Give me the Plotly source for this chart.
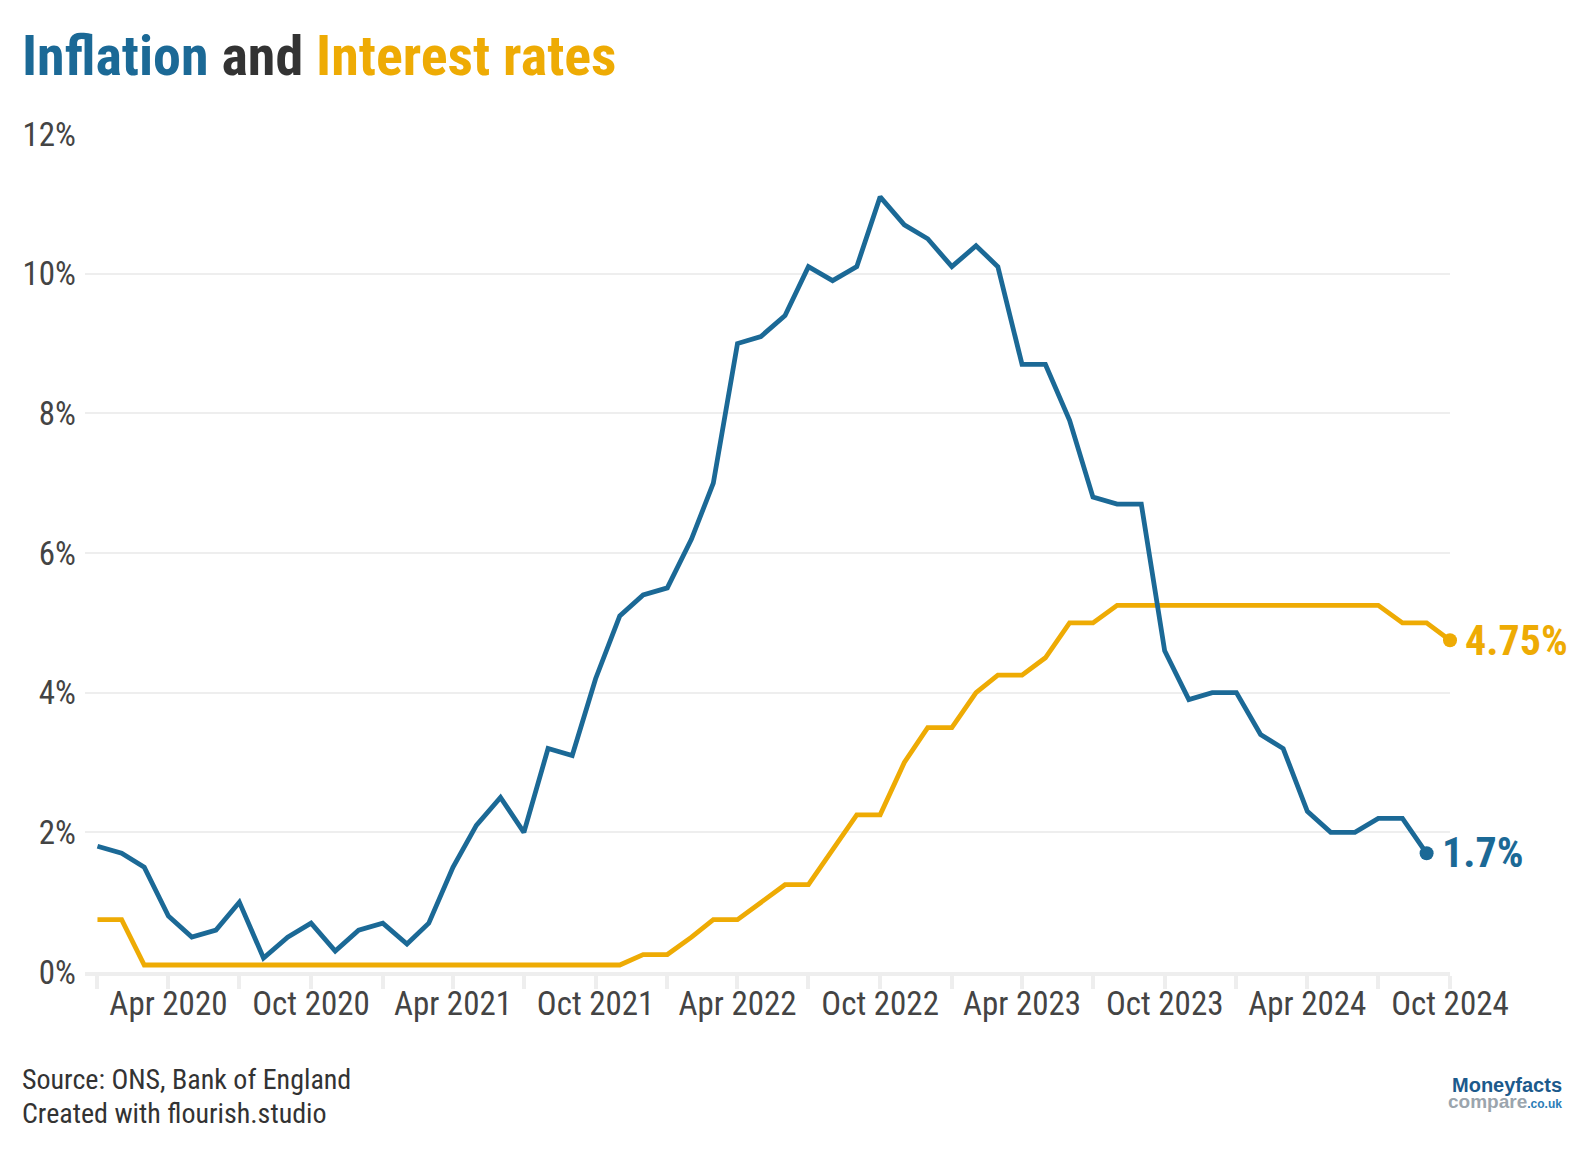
import plotly.graph_objects as go
import pandas as pd

# ---- data ----
inflation_dates = pd.date_range("2020-01-01", "2024-09-01", freq="MS")
inflation = [1.8, 1.7, 1.5, 0.8, 0.5, 0.6, 1.0, 0.2, 0.5, 0.7, 0.3, 0.6,
             0.7, 0.4, 0.7, 1.5, 2.1, 2.5, 2.0, 3.2, 3.1, 4.2, 5.1, 5.4,
             5.5, 6.2, 7.0, 9.0, 9.1, 9.4, 10.1, 9.9, 10.1, 11.1, 10.7, 10.5,
             10.1, 10.4, 10.1, 8.7, 8.7, 7.9, 6.8, 6.7, 6.7, 4.6, 3.9, 4.0,
             4.0, 3.4, 3.2, 2.3, 2.0, 2.0, 2.2, 2.2, 1.7]

rate_dates = pd.date_range("2020-01-01", "2024-10-01", freq="MS")
interest = [0.75, 0.75, 0.1, 0.1, 0.1, 0.1, 0.1, 0.1, 0.1, 0.1, 0.1, 0.1,
            0.1, 0.1, 0.1, 0.1, 0.1, 0.1, 0.1, 0.1, 0.1, 0.1, 0.1, 0.25,
            0.25, 0.5, 0.75, 0.75, 1.0, 1.25, 1.25, 1.75, 2.25, 2.25, 3.0, 3.5,
            3.5, 4.0, 4.25, 4.25, 4.5, 5.0, 5.0, 5.25, 5.25, 5.25, 5.25, 5.25,
            5.25, 5.25, 5.25, 5.25, 5.25, 5.25, 5.25, 5.0, 5.0, 4.75]

tick_dates = pd.date_range("2020-01-01", "2024-10-01", freq="QS")
tick_labels = [d.strftime("%b %Y") if d.month in (4, 10) else "" for d in tick_dates]
y_ticks = [0, 2, 4, 6, 8, 10, 12]
y_labels = [f"{v}%" for v in y_ticks]

BLUE = "#1b6996"
YELLOW = "#eeab04"
FONT = "Liberation Sans Narrow, Roboto Condensed, Arial Narrow, Roboto, sans-serif"

fig = go.Figure()
fig.add_trace(go.Scatter(x=rate_dates, y=interest, mode="lines",
                         line=dict(color=YELLOW, width=4.8), name="Interest rates",
                         hoverinfo="skip"))
fig.add_trace(go.Scatter(x=inflation_dates, y=inflation, mode="lines",
                         line=dict(color=BLUE, width=4.8), name="Inflation",
                         hoverinfo="skip"))
# end markers
fig.add_trace(go.Scatter(x=[rate_dates[-1]], y=[interest[-1]], mode="markers",
                         marker=dict(color=YELLOW, size=14), cliponaxis=False,
                         hoverinfo="skip"))
fig.add_trace(go.Scatter(x=[inflation_dates[-1]], y=[inflation[-1]], mode="markers",
                         marker=dict(color=BLUE, size=14), cliponaxis=False,
                         hoverinfo="skip"))
# end labels
fig.add_annotation(x=rate_dates[-1], y=interest[-1], xref="x", yref="y",
                   text=f"<b>{interest[-1]}%</b>", showarrow=False,
                   xanchor="left", yanchor="middle", xshift=13,
                   font=dict(family=FONT, size=42, color=YELLOW))
fig.add_annotation(x=inflation_dates[-1], y=inflation[-1], xref="x", yref="y",
                   text=f"<b>{inflation[-1]}%</b>", showarrow=False,
                   xanchor="left", yanchor="middle", xshift=13, yshift=1,
                   font=dict(family=FONT, size=42, color=BLUE))

fig.update_layout(
    width=1588, height=1150,
    margin=dict(l=85, r=138, t=134, b=178, autoexpand=False),
    paper_bgcolor="white", plot_bgcolor="white",
    showlegend=False,
    font=dict(family=FONT, color="#444"),
    xaxis=dict(
        range=["2019-12-16", "2024-10-01"],
        tickvals=tick_dates, ticktext=tick_labels,
        ticks="outside", ticklen=13, tickwidth=4, tickcolor="#eeeeee",
        showline=True, linecolor="#eeeeee", linewidth=4,
        showgrid=False, zeroline=False,
        ticklabelstandoff=-14,
        tickfont=dict(family=FONT, size=33, color="#444"),
        fixedrange=True,
    ),
    yaxis=dict(
        range=[0, 12],
        tickvals=y_ticks, ticktext=y_labels,
        showgrid=True, gridcolor="#eeeeee", gridwidth=2,
        zeroline=False, showline=False, ticks="",
        ticklabelstandoff=8,
        tickfont=dict(family=FONT, size=33, color="#444"),
        fixedrange=True,
    ),
)

LX = (20 - 85) / 1365
fig.add_annotation(
    xref="paper", yref="paper", x=LX, y=1 + (134 - 56) / 838,
    xanchor="left", yanchor="middle", showarrow=False,
    text=(f"<b><span style='color:{BLUE}'>Inflation</span> "
          f"<span style='color:#333333'>and</span> "
          f"<span style='color:{YELLOW}'>Interest rates</span></b>"),
    font=dict(family=FONT, size=56),
)
fig.add_annotation(
    xref="paper", yref="paper", x=LX, y=-(1079 - 972) / 838,
    xanchor="left", yanchor="middle", showarrow=False, align="left",
    text="Source: ONS, Bank of England",
    font=dict(family=FONT, size=28, color="#333333"),
)
fig.add_annotation(
    xref="paper", yref="paper", x=LX, y=-(1113 - 972) / 838,
    xanchor="left", yanchor="middle", showarrow=False, align="left",
    text="Created with flourish.studio",
    font=dict(family=FONT, size=28, color="#333333"),
)
fig.add_annotation(
    xref="paper", yref="paper", x=(1564 - 85) / 1365, y=-(1085 - 972) / 838,
    xanchor="right", yanchor="middle", showarrow=False,
    text="<b>Moneyfacts</b>",
    font=dict(family="Liberation Sans, Arial, sans-serif", size=20, color="#1c5a8c"),
)
fig.add_annotation(
    xref="paper", yref="paper", x=(1564 - 85) / 1365, y=-(1101 - 972) / 838,
    xanchor="right", yanchor="middle", showarrow=False,
    text=("<b><span style='color:#9ba5ad'>compare</span>"
          "<span style='color:#2b7db6;font-size:12px'>.co.uk</span></b>"),
    font=dict(family="Liberation Sans, Arial, sans-serif", size=19),
)

fig.write_html("out.html")
